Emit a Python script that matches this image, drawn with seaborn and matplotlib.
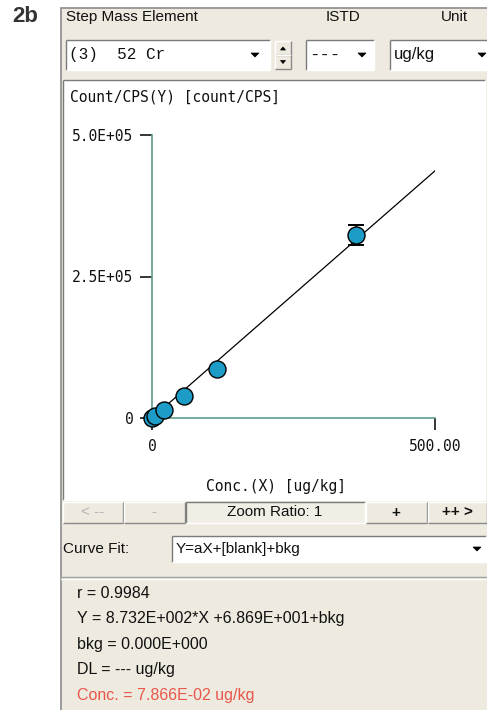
import numpy as np
import pandas as pd
import matplotlib
matplotlib.use("Agg")
import matplotlib.pyplot as plt
from matplotlib.patches import Rectangle, Polygon
import seaborn as sns

# Calibration standards for 52 Cr (concentration vs. counts)
conc_ugkg = [0, 5, 22, 56, 115, 360]
counts_cps = [0, 2900, 14600, 38100, 86500, 323500]
counts_err = [0, 0, 0, 0, 0, 17600]

# Linear fit Y = aX + b
fit_slope = 873.2
fit_intercept = 68.69

x_range = [0, 500]
y_range = [0, 5.0e5]
x_ticks = [0, 500]
x_tick_labels = ["0", "500.00"]
y_ticks = [0, 2.5e5, 5.0e5]
y_tick_labels = ["0", "2.5E+05", "5.0E+05"]

x_label = "Conc.(X) [ug/kg]"
y_label = "Count/CPS(Y) [count/CPS]"

result_lines = [
    "r = 0.9984",
    "Y = 8.732E+002*X +6.869E+001+bkg",
    "bkg = 0.000E+000",
    "DL = --- ug/kg",
]
conc_result = "Conc. = 7.866E-02 ug/kg"

sns.set_style("white")
plt.rcParams["font.family"] = ["Liberation Sans", "DejaVu Sans"]

W, H = 487, 710
BEIGE = "#EEEADF"
DARK = "#8C8C8C"
MONO = "DejaVu Sans Mono"
TEAL = "#5E9E90"
DOT = "#1C9CC6"

fig = plt.figure(figsize=(W / 100, H / 100), dpi=100, facecolor="white")

# Dialog chrome drawn in pixel coordinates
ui = fig.add_axes([0, 0, 1, 1])
ui.set_xlim(0, W)
ui.set_ylim(H, 0)
ui.axis("off")


def box(x0, y0, x1, y1, fc, ec="none", lw=1.0, z=1):
    ui.add_patch(Rectangle((x0, y0), x1 - x0, y1 - y0, facecolor=fc,
                           edgecolor=ec, lw=lw, zorder=z))


def bevel(x0, y0, x1, y1, sunken=True, z=2):
    tl, br = ("#7A7A7A", "white") if sunken else ("white", "#8A8A8A")
    ui.plot([x0, x1], [y0, y0], color=tl, lw=1, zorder=z, solid_capstyle="butt")
    ui.plot([x0, x0], [y0, y1], color=tl, lw=1, zorder=z, solid_capstyle="butt")
    ui.plot([x0, x1], [y1, y1], color=br, lw=1, zorder=z, solid_capstyle="butt")
    ui.plot([x1, x1], [y0, y1], color=br, lw=1, zorder=z, solid_capstyle="butt")


def tri(xc, yc, w=8, h=4, up=False, z=4):
    if up:
        pts = [(xc - w / 2, yc + h / 2), (xc + w / 2, yc + h / 2), (xc, yc - h / 2)]
    else:
        pts = [(xc - w / 2, yc - h / 2), (xc + w / 2, yc - h / 2), (xc, yc + h / 2)]
    ui.add_patch(Polygon(pts, closed=True, facecolor="black", edgecolor="black",
                         lw=0.5, zorder=z))


def label(x, y, s, size=11, color="#111111", **kw):
    ui.text(x, y, s, fontsize=size, color=color, va="center", zorder=5, **kw)


# Figure tag
label(12, 17, "2b", size=16, color="#333333", fontweight="bold")

# Outer dialog panel
box(61, 8, W + 5, H + 5, BEIGE, ec=DARK, lw=1.2)

# Column headers
label(66, 17, "Step Mass Element")
label(326, 17, "ISTD")
label(441, 17, "Unit")

# Element selector
box(66, 40, 270, 70, "white")
bevel(66, 40, 270, 70)
label(69, 55, "(3)  52 Cr", size=11.5, family="Liberation Mono")
tri(255, 55)
box(275, 41, 291, 69, BEIGE)
bevel(275, 41, 291, 55, sunken=False)
bevel(275, 55, 291, 69, sunken=False)
tri(283, 48.5, w=5, h=3, up=True)
tri(283, 62, w=5, h=3)

# ISTD selector
box(306, 40, 374, 70, "white")
bevel(306, 40, 374, 70)
label(309, 55, "---", size=12.5, family="Liberation Mono")
tri(362, 55)

# Unit selector
box(390, 40, W + 5, 70, "white")
bevel(390, 40, W + 5, 70)
label(394, 55, "ug/kg", size=12)
tri(482, 55)

# Plot panel
box(63, 80, 485, 500, "white")
bevel(63, 80, 485, 500)

# Zoom button bar
buttons = [(62, 123, "< --", "#B5B5B5", "normal"),
           (123, 185, "-", "#B5B5B5", "normal"),
           (185, 365, "Zoom Ratio: 1", "#111111", "normal"),
           (365, 427, "+", "#111111", "bold"),
           (427, 487, "++ >", "#111111", "bold")]
for x0, x1, s, c, wgt in buttons:
    pressed = s.startswith("Zoom")
    box(x0, 502, x1, 523, "#F1EEE5" if pressed else BEIGE)
    bevel(x0 + 0.5, 502, x1 - 0.5, 523, sunken=pressed)
    ui.text((x0 + x1) / 2, 512.5, s, fontsize=11, color=c, ha="center",
            va="center", fontweight=wgt, zorder=5)

# Curve fit selector
label(63, 549, "Curve Fit:")
box(172, 536, 486, 562, "white")
bevel(172, 536, 486, 562)
label(176, 549, "Y=aX+[blank]+bkg")
tri(477, 549)

# Separator
ui.plot([61, W], [577, 577], color="#A0A0A0", lw=1, zorder=3)
ui.plot([61, W], [578.5, 578.5], color="white", lw=1, zorder=3)

# Fit results
for i, s in enumerate(result_lines):
    label(77, 593 + 25.6 * i, s, size=11.5)
label(77, 593 + 25.6 * 4, conc_result, size=11.5, color="#E8574B")

# Calibration curve axes
ox, oy, ex, ey = 152, 418, 435, 135
ax = fig.add_axes([ox / W, 1 - oy / H, (ex - ox) / W, (oy - ey) / H])
ax.set_zorder(3)
ax.patch.set_alpha(0)

df = pd.DataFrame({"conc": conc_ugkg, "counts": counts_cps, "err": counts_err})
fit_df = pd.DataFrame({"conc": x_range})
fit_df["counts"] = fit_slope * fit_df["conc"] + fit_intercept

sns.lineplot(data=fit_df, x="conc", y="counts", ax=ax, color="black",
             lw=0.9, zorder=2)
err_df = df[df["err"] > 0]
ax.errorbar(err_df["conc"], err_df["counts"], yerr=err_df["err"], fmt="none",
            ecolor="black", elinewidth=1.1, capsize=5.5, capthick=1.4,
            zorder=2, clip_on=False)
sns.scatterplot(data=df, x="conc", y="counts", ax=ax, s=150, color=DOT,
                edgecolor="black", linewidth=1.0, zorder=4, clip_on=False)

ax.set_xlim(*x_range)
ax.set_ylim(*y_range)
ax.set_xticks(x_ticks, labels=x_tick_labels)
ax.set_yticks(y_ticks, labels=y_tick_labels)
for sp in ("top", "right"):
    ax.spines[sp].set_visible(False)
for sp in ("left", "bottom"):
    ax.spines[sp].set_color(TEAL)
    ax.spines[sp].set_linewidth(1.2)
ax.tick_params(axis="x", bottom=True, direction="out", length=8.5, width=1.1,
               color="black", pad=6.5, labelsize=10.5)
ax.tick_params(axis="y", left=True, direction="out", length=8.5, width=1.1,
               color="black", pad=5, labelsize=10.5)
for t in ax.get_xticklabels() + ax.get_yticklabels():
    t.set_family(MONO)
    t.set_color("#111111")

ax.set_xlabel(x_label, family=MONO, fontsize=10.5, color="#111111")
ax.xaxis.set_label_coords((276 - ox) / (ex - ox), -(487 - oy) / (oy - ey))
ax.xaxis.label.set_va("center")
ax.set_ylabel(y_label, family=MONO, fontsize=10.5, color="#111111",
              rotation=0, ha="left", va="center")
ax.yaxis.set_label_coords((70 - ox) / (ex - ox), (oy - 97) / (oy - ey))

fig.savefig("out.png", dpi=100, facecolor="white")
